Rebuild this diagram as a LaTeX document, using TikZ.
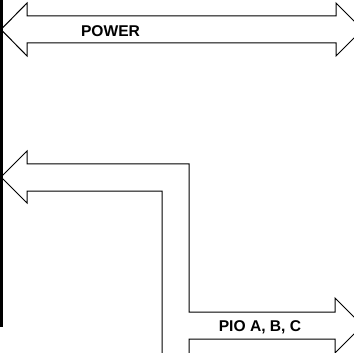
\documentclass[tikz,border=0pt]{standalone}
\usepackage{fontspec}
\setmainfont{Liberation Sans}
\usetikzlibrary{positioning}
\tikzset{bus/.style={draw=black,line width=1pt,fill=white,line join=miter},
  buslabel/.style={font=\fontsize{15.6}{18}\selectfont\bfseries,inner sep=0pt}}
\begin{document}
\begin{tikzpicture}[x=1pt,y=-1pt]
\useasboundingbox (0,0) rectangle (354,353);
\clip (0,0) rectangle (354,353);
% power bus, two heads
\draw[bus] (1,29.5) -- (27,3) -- (27,16) -- (336,16) -- (336,3) -- (362.5,29.5)
  -- (336,56) -- (336,43) -- (27,43) -- (27,56) -- cycle;
\node[buslabel] (power) at (110.5,31.5) {POWER};
% PIO bus
\draw[bus] (162,365) -- (162,191) -- (27,191) -- (27,203) -- (1,177) -- (27,151)
  -- (27,164) -- (189,164) -- (189,312) -- (335,312) -- (335,298) -- (362.5,325.5)
  -- (335,353) -- (335,339) -- (189,339) -- (189,365);
\node[buslabel] (pio) at (260,327) {PIO A, B, C};
% system side
\draw[line width=2.5pt] (1.25,0) -- (1.25,327);
\end{tikzpicture}
\end{document}
